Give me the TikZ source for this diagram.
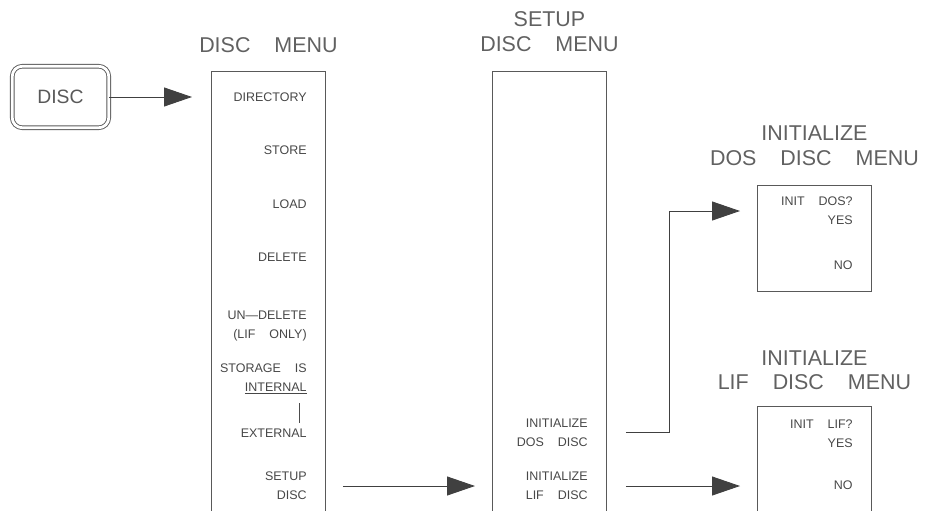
\documentclass[tikz,border=0pt]{standalone}
\usepackage{fontspec}
\setmainfont{Liberation Sans}
\usetikzlibrary{arrows.meta,positioning}
\newcommand{\gapp}{\hspace{0.28cm}}
\newcommand{\tgap}{\hspace{0.48cm}}
\tikzset{
  menu/.style  = {rectangle, draw=black!65, line width=0.5pt, anchor=north west,
                  minimum width=2.28cm, minimum height=9cm, inner sep=0pt},
  submenu/.style = {menu, minimum height=2.12cm},
  title/.style = {font=\fontsize{12.2}{14.2}\selectfont, text=black!62,
                  align=center, inner sep=0pt},
  item/.style  = {font=\fontsize{7.1}{10.8}\selectfont, text=black!72,
                  align=right, anchor=east, inner sep=0pt},
  key/.style   = {rectangle, draw=black!65, line width=0.5pt, double,
                  double distance=1.6pt, rounded corners=0.2cm,
                  minimum width=1.93cm, minimum height=1.23cm,
                  font=\fontsize{11}{13}\selectfont, text=black!65},
  arr/.style   = {-{Triangle[length=0.56cm,width=0.38cm]}, draw=black!75,
                  line width=0.5pt},
  wire/.style  = {draw=black!70, line width=0.5pt}
}
\begin{document}
\begin{tikzpicture}[x=0.02cm, y=-0.02cm]
\useasboundingbox (0,0) rectangle (925,510);
\clip (0,0) rectangle (925,510);
\node[key] (disckey) at (60.5,97) {DISC};
\node[menu]    (discmenu)  at (211,71)  {};
\node[menu]    (setupmenu) at (492,71)  {};
\node[submenu] (dosmenu)   at (757,185) {};
\node[menu]    (lifmenu)   at (757,406) {};
\node[title, above=0.35cm of discmenu]  (discttl)  {DISC\tgap MENU};
\node[title, above=0.37cm of setupmenu] (setupttl) {SETUP\\DISC\tgap MENU};
\node[title, above=0.37cm of dosmenu]   (dosttl)   {INITIALIZE\\DOS\tgap DISC\tgap MENU};
\node[title, above=0.31cm of lifmenu]   (lifttl)   {INITIALIZE\\LIF\tgap DISC\tgap MENU};
\node[item] (dir)       at (307,97)  {DIRECTORY};
\node[item] (store)     at (307,150) {STORE};
\node[item] (load)      at (307,204) {LOAD};
\node[item] (delete)    at (307,257) {DELETE};
\node[item] (undelete)  at (307,326) {UN\textemdash DELETE\\(LIF\gapp ONLY)};
\node[item] (storage)   at (307,379) {STORAGE\gapp IS\\\underline{INTERNAL}};
\node[item] (external)  at (307,433) {EXTERNAL};
\node[item] (setupdisc) at (307,486) {SETUP\\DISC};
\node[item] (initdos)   at (588,432.5) {INITIALIZE\\DOS\gapp DISC};
\node[item] (initlif)   at (588,486)   {INITIALIZE\\LIF\gapp DISC};
\node[item] (dosyes)    at (853,211)   {INIT\gapp DOS?\\YES};
\node[item] (dosno)     at (853,265)   {NO};
\node[item] (lifyes)    at (853,433.5) {INIT\gapp LIF?\\YES};
\node[item] (lifno)     at (853,485)   {NO};
\coordinate (bartop) at (299,403);
\coordinate (barbot) at (299,423);
\draw[wire] (bartop) -- (barbot);
\draw[arr] (disckey) -- ([xshift=-0.38cm]discmenu.west |- disckey);
\draw[arr] ([xshift=0.34cm]discmenu.east |- setupdisc) -- ([xshift=-0.34cm]setupmenu.west |- setupdisc);
\draw[arr] ([xshift=0.38cm]setupmenu.east |- initdos) -- ++(0.88cm,0) |- ([xshift=-0.34cm]dosmenu.west |- dosyes);
\draw[arr] ([xshift=0.38cm]setupmenu.east |- initlif) -- ([xshift=-0.34cm]lifmenu.west |- initlif);
\end{tikzpicture}
\end{document}
